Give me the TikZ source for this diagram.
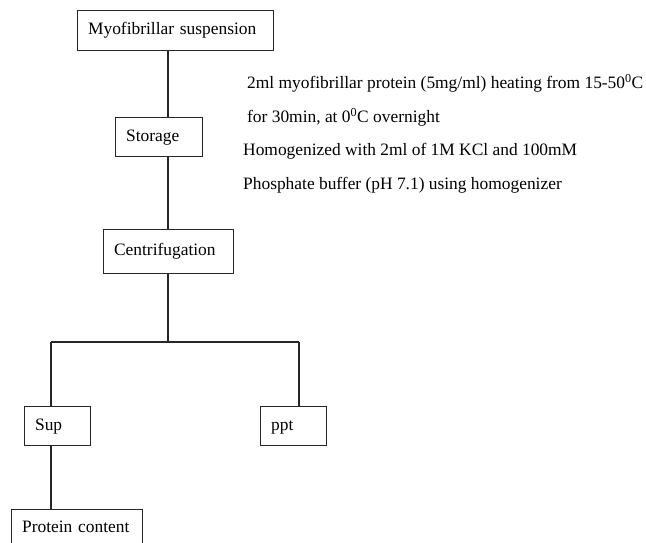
\documentclass[tikz,border=0pt]{standalone}
\usepackage{fontspec}
\setmainfont{Liberation Serif}
\begin{document}
\begin{tikzpicture}[x=1pt,y=-1pt,font=\fontsize{17.4}{21}\selectfont,
	box/.style={draw=black!85,line width=1.2,inner xsep=10.5pt,inner ysep=0pt,text height=12.5pt,text depth=4pt,align=left,anchor=north west},
	link/.style={draw=black!85,line width=1.2},
	note/.style={inner sep=0pt,align=left,anchor=west,font=\fontsize{17.4}{34}\selectfont}]
	\useasboundingbox (0,0) rectangle (646,543);
	\clip (0,0) rectangle (646,543);
	\node [box,text width=175pt,minimum height=40pt] (myo) at (77,10) {Myofibrillar suspension};
	\node [box,text width=66pt,minimum height=39pt] (sto) at (115,117) {Storage};
	\node [box,text width=109pt,minimum height=44pt] (cen) at (103,229) {Centrifugation};
	\node [box,text width=45pt,minimum height=39pt] (sup) at (24,406) {Sup};
	\node [box,text width=45pt,minimum height=39pt] (ppt) at (260,406) {ppt};
	\node [box,text width=110pt,minimum height=37pt] (pro) at (11,509) {Protein content};
	\node [note] (heat) at (247,100) {2ml myofibrillar protein (5mg/ml) heating from 15-50\textsuperscript{0}C\\for 30min, at 0\textsuperscript{0}C overnight};
	\node [note] (homo) at (243,168) {Homogenized with 2ml of 1M KCl and 100mM\\Phosphate buffer (pH 7.1) using homogenizer};
	\coordinate (stem) at (168,0);
	\coordinate (bl) at (51,342);
	\coordinate (br) at (299,342);
	\draw [link] (myo.south -| stem) -- (sto.north -| stem);
	\draw [link] (sto.south -| stem) -- (cen.north -| stem);
	\draw [link] (cen.south -| stem) -- (stem |- bl);
	\draw [link] (bl) -- (br);
	\draw [link] (bl) -- (sup.north -| bl);
	\draw [link] (br) -- (ppt.north -| br);
	\draw [link] (sup.south -| bl) -- (pro.north -| bl);
\end{tikzpicture}
\end{document}
